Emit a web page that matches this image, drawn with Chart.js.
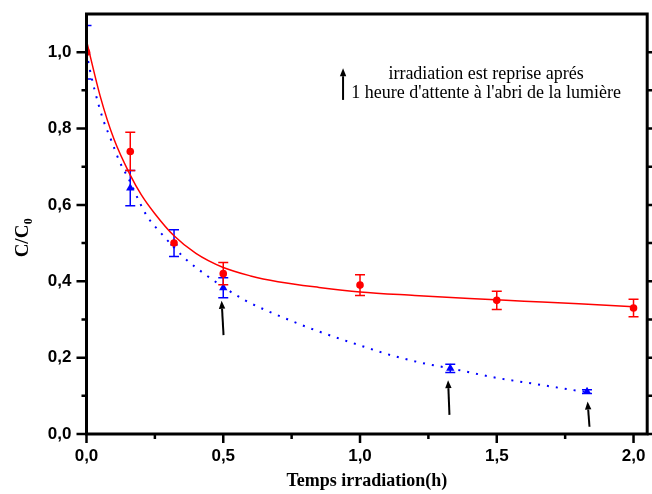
<!DOCTYPE html>
<html><head><meta charset="utf-8">
<script src="https://cdn.jsdelivr.net/npm/chart.js@4/dist/chart.umd.min.js"></script>
<style>html,body{margin:0;padding:0;background:#fff;}#wrap{width:652px;height:494px;}</style>
</head><body><div id="wrap"><canvas id="c" width="652" height="494"></canvas></div>
<script>
// measured points (C/C0) with error bars
const redX = [0, 0.16, 0.32, 0.5, 1.0, 1.5, 2.0];
const redY = [1.0, 0.74, 0.50, 0.42, 0.39, 0.35, 0.33];
const redErr = [0, 0.05, 0, 0.029, 0.027, 0.024, 0.023];
const blueX = [0, 0.16, 0.32, 0.5, 1.33, 1.83];
const blueY = [1.0, 0.644, 0.50, 0.383, 0.172, 0.111];
const blueErr = [0.07, 0.046, 0.035, 0.026, 0.011, 0.005];
// fitted curves
const redFitX = [0, 0.05, 0.1, 0.16, 0.2, 0.25, 0.32, 0.4, 0.5, 0.6, 0.7, 0.85, 1.0, 1.2, 1.4, 1.6, 1.8, 2.0];
const redFitY = [1.03, 0.885, 0.773, 0.678, 0.627, 0.577, 0.519, 0.473, 0.436, 0.414, 0.399, 0.384, 0.372, 0.363, 0.355, 0.348, 0.341, 0.333];
const blueFitX = [0, 0.012, 0.03, 0.06, 0.09, 0.12, 0.16, 0.19, 0.22, 0.28, 0.36, 0.43, 0.5, 0.58, 0.65, 0.75, 0.84, 1.0, 1.12, 1.24, 1.33, 1.5, 1.65, 1.78, 1.84];
const blueFitY = [1.0, 0.955, 0.90, 0.825, 0.77, 0.715, 0.66, 0.613, 0.572, 0.52, 0.46, 0.42, 0.385, 0.35, 0.326, 0.296, 0.271, 0.232, 0.205, 0.184, 0.172, 0.147, 0.130, 0.115, 0.109];
// ticks
const xTickValues = [0, 0.25, 0.5, 0.75, 1.0, 1.25, 1.5, 1.75, 2.0];
const xTickLabels = ['0,0', '', '0,5', '', '1,0', '', '1,5', '', '2,0'];
const yTickValues = [0, 0.1, 0.2, 0.3, 0.4, 0.5, 0.6, 0.7, 0.8, 0.9, 1.0];
const yTickLabels = ['0,0', '', '0,2', '', '0,4', '', '0,6', '', '0,8', '', '1,0'];
// annotation arrows [xFrom, yFrom, xTo, yTo] in data units
const arrows = [[0.501, 0.259, 0.494, 0.349], [1.327, 0.050, 1.322, 0.141], [1.839, 0.019, 1.832, 0.085], [0.938, 0.875, 0.938, 0.958]];
const noteLines = ["irradiation est reprise aprés", "1 heure d'attente à l'abri de la lumière"];
const noteX = 1.461, noteY = [0.929, 0.881];
const xTitle = 'Temps irradiation(h)';
const yTitleMain = 'C/C', yTitleSub = '0';

const pts = (xs, ys) => xs.map((x, i) => ({x: x, y: ys[i]}));

function drawErrors(chart, xs, ys, es, color) {
  const ctx = chart.ctx, xs_ = chart.scales.x, ys_ = chart.scales.y, a = chart.chartArea;
  ctx.save();
  ctx.beginPath(); ctx.rect(a.left, a.top - 5, a.right - a.left, a.bottom - a.top + 10); ctx.clip();
  ctx.strokeStyle = color; ctx.lineWidth = 1.5;
  xs.forEach((x, i) => {
    if (!es[i]) return;
    const px = xs_.getPixelForValue(x);
    const p1 = ys_.getPixelForValue(ys[i] + es[i]);
    const p2 = ys_.getPixelForValue(ys[i] - es[i]);
    ctx.beginPath();
    ctx.moveTo(px, p1); ctx.lineTo(px, p2);
    ctx.moveTo(px - 5, p1); ctx.lineTo(px + 5, p1);
    ctx.moveTo(px - 5, p2); ctx.lineTo(px + 5, p2);
    ctx.stroke();
  });
  ctx.restore();
}

const deco = {
  id: 'deco',
  beforeDatasetDraw(chart, args) {
    if (args.index === 2) drawErrors(chart, redX, redY, redErr, '#ff0000');
    if (args.index === 3) drawErrors(chart, blueX, blueY, blueErr, '#0000ff');
  },
  afterDraw(chart) {
    const ctx = chart.ctx, a = chart.chartArea, sx = chart.scales.x, sy = chart.scales.y;
    ctx.save();
    // frame
    ctx.strokeStyle = '#000'; ctx.lineWidth = 3;
    ctx.strokeRect(a.left, a.top, a.right - a.left, a.bottom - a.top);
    // ticks
    ctx.lineWidth = 2.5; ctx.lineCap = 'butt';
    xTickValues.forEach((v, i) => {
      const p = sx.getPixelForValue(v), L = xTickLabels[i] ? 9 : 5;
      ctx.beginPath();
      ctx.moveTo(p, a.bottom); ctx.lineTo(p, a.bottom + L);
      ctx.stroke();
    });
    yTickValues.forEach((v, i) => {
      const p = sy.getPixelForValue(v), L = yTickLabels[i] ? 10 : 5;
      ctx.beginPath();
      ctx.moveTo(a.left, p); ctx.lineTo(a.left - L, p);
      ctx.moveTo(a.right, p); ctx.lineTo(a.right + L, p);
      ctx.stroke();
    });
    // arrows
    ctx.fillStyle = '#000'; ctx.strokeStyle = '#000'; ctx.lineWidth = 2;
    arrows.forEach(r => {
      const x0 = sx.getPixelForValue(r[0]), y0 = sy.getPixelForValue(r[1]);
      const x1 = sx.getPixelForValue(r[2]), y1 = sy.getPixelForValue(r[3]);
      const ang = Math.atan2(y1 - y0, x1 - x0), h = 8, w = 3.2;
      const bx = x1 - h * Math.cos(ang), by = y1 - h * Math.sin(ang);
      ctx.beginPath(); ctx.moveTo(x0, y0); ctx.lineTo(bx, by); ctx.stroke();
      ctx.beginPath();
      ctx.moveTo(x1, y1);
      ctx.lineTo(bx + w * Math.sin(ang), by - w * Math.cos(ang));
      ctx.lineTo(bx - w * Math.sin(ang), by + w * Math.cos(ang));
      ctx.closePath(); ctx.fill();
    });
    // note text
    ctx.font = '18px "Liberation Serif"'; ctx.textAlign = 'center'; ctx.textBaseline = 'alphabetic';
    noteLines.forEach((t, i) => ctx.fillText(t, sx.getPixelForValue(noteX), sy.getPixelForValue(noteY[i])));
    // y title with subscript
    ctx.translate(21.5, 238); ctx.rotate(-Math.PI / 2);
    ctx.font = 'bold 19px "Liberation Serif"';
    const w1 = ctx.measureText(yTitleMain).width;
    ctx.font = 'bold 12px "Liberation Serif"';
    const w2 = ctx.measureText(yTitleSub).width;
    const s = -(w1 + w2) / 2;
    ctx.textAlign = 'left';
    ctx.font = 'bold 19px "Liberation Serif"';
    ctx.fillText(yTitleMain, s, 6.3);
    ctx.font = 'bold 12px "Liberation Serif"';
    ctx.fillText(yTitleSub, s + w1 + 0.5, 10);
    ctx.restore();
  }
};

new Chart(document.getElementById('c'), {
  type: 'scatter',
  data: {datasets: [
    {data: pts(blueFitX, blueFitY), showLine: true, borderColor: '#0000ff', borderWidth: 2, borderDash: [2, 7], pointRadius: 0, cubicInterpolationMode: 'monotone', fill: false},
    {data: pts(redFitX, redFitY), showLine: true, borderColor: '#ff0000', borderWidth: 1.5, pointRadius: 0, cubicInterpolationMode: 'monotone', fill: false},
    {data: pts(redX, redY), pointStyle: 'circle', pointRadius: 3.8, backgroundColor: '#ff0000', borderColor: '#ff0000', borderWidth: 0},
    {data: pts(blueX, blueY), pointStyle: 'triangle', pointRadius: 4.8, backgroundColor: '#0000ff', borderColor: '#0000ff', borderWidth: 0}
  ]},
  options: {
    animation: false, responsive: false, events: [],
    plugins: {legend: {display: false}, tooltip: {enabled: false}},
    layout: {padding: {left: 0, right: 2, top: 14, bottom: 0}},
    scales: {
      x: {
        type: 'linear', min: 0, max: 2.05,
        afterBuildTicks: s => { s.ticks = xTickValues.map(v => ({value: v})); },
        ticks: {callback: (v, i) => xTickLabels[i], font: {family: 'Liberation Sans', weight: 'bold', size: 17}, color: '#000', padding: 12, maxRotation: 0, autoSkip: false},
        grid: {display: false, drawTicks: false},
        border: {display: false},
        title: {display: true, text: xTitle, font: {family: 'Liberation Serif', weight: 'bold', size: 18}, color: '#000', padding: {top: 0, bottom: 2}},
        afterFit: s => { s.height = 60; s.paddingLeft = 0; s.paddingRight = 0; }
      },
      y: {
        type: 'linear', min: 0, max: 1.1,
        afterBuildTicks: s => { s.ticks = yTickValues.map(v => ({value: v})); },
        ticks: {callback: (v, i) => yTickLabels[i], font: {family: 'Liberation Sans', weight: 'bold', size: 17}, color: '#000', padding: 15, autoSkip: false},
        grid: {display: false, drawTicks: false},
        border: {display: false},
        afterFit: s => { s.width = 86.5; s.paddingTop = 0; s.paddingBottom = 0; }
      }
    }
  },
  plugins: [deco]
});
</script></body></html>
